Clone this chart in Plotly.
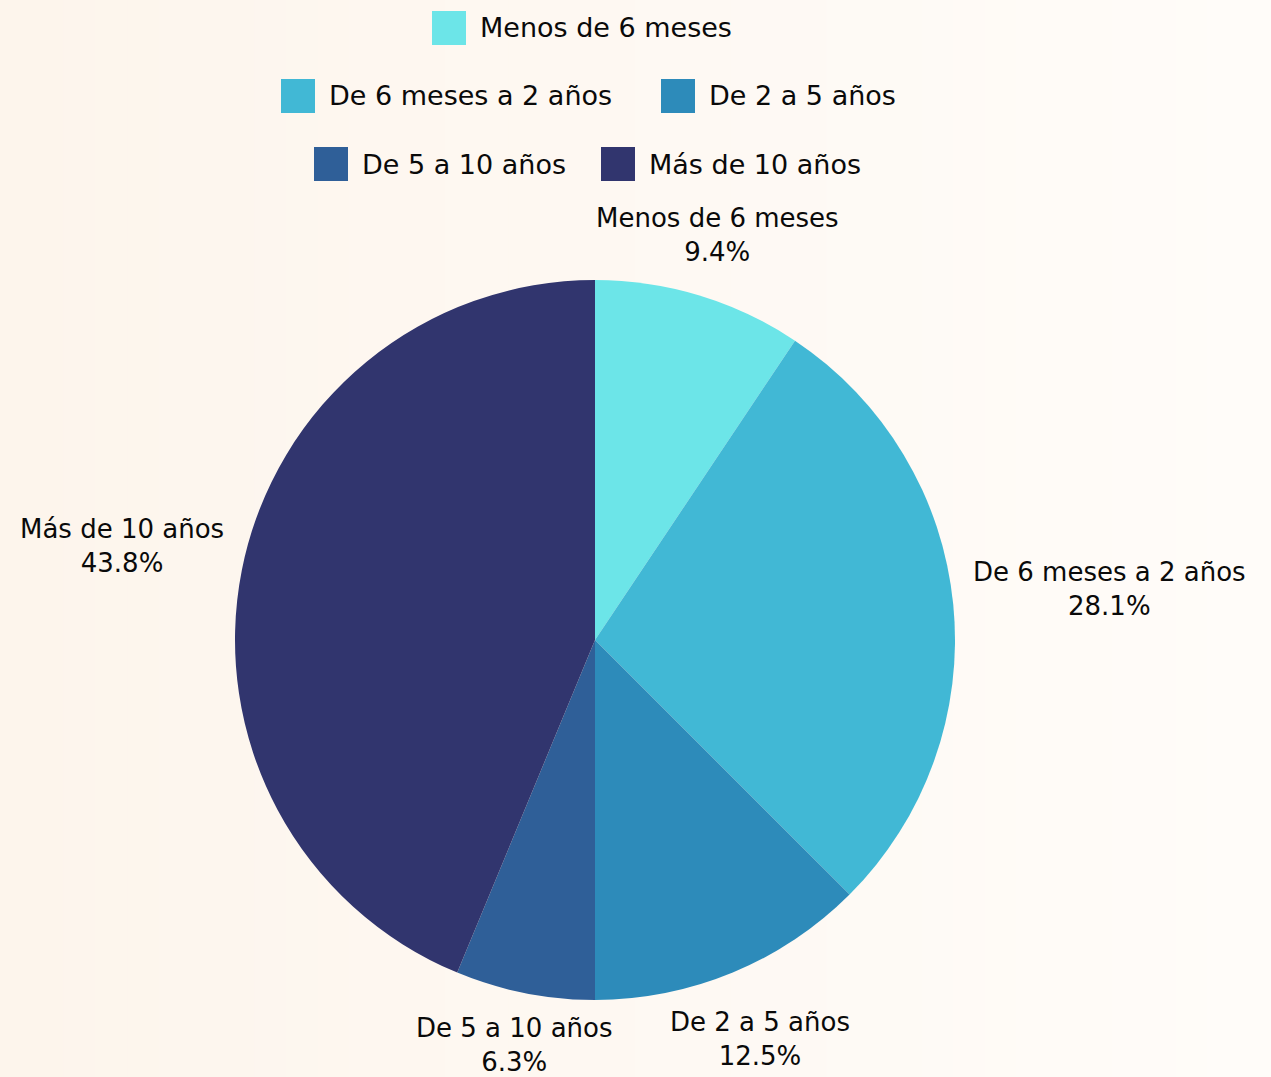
import math
from decimal import Decimal, ROUND_HALF_UP
import plotly.graph_objects as go

# ---- data ----
categories = ["Menos de 6 meses", "De 6 meses a 2 años", "De 2 a 5 años",
              "De 5 a 10 años", "Más de 10 años"]
counts = [3, 9, 4, 2, 14]
colors = ["#6ce5e8", "#41b8d5", "#2d8bba", "#2f5f98", "#31356e"]

W, H = 1271, 1077
FONT = "DejaVu Sans"
LABEL_SIZE = 26
LEGEND_SIZE = 27
TEXT_COLOR = "#0a0a0a"

fig = go.Figure()

# pie geometry (pixels)
cx, cy, r = 595, 640, 360
fig.add_trace(go.Pie(
    labels=categories,
    values=counts,
    sort=False,
    direction="clockwise",
    rotation=0,
    marker=dict(colors=colors, line=dict(width=0)),
    textinfo="none",
    showlegend=False,
    domain=dict(x=[(cx - r) / W, (cx + r) / W],
                y=[(H - cy - r) / H, (H - cy + r) / H]),
    hoverinfo="label+percent",
))

shapes = []
annotations = []


def box_dist(px, py, a, b):
    dx = max(abs(px) - a, 0.0)
    dy = max(abs(py) - b, 0.0)
    return math.hypot(dx, dy)


# ---- outside labels placed radially at each slice's mid-angle ----
total = sum(counts)
cum = 0.0
gap = 12
for lab, v in zip(categories, counts):
    mid = (cum + v / 2) / total * 2 * math.pi  # clockwise from top
    cum += v
    s, c = math.sin(mid), math.cos(mid)
    a = len(lab) * 0.58 * LABEL_SIZE / 2
    b = 33
    lo, hi = r, r + 600
    for _ in range(60):
        m = (lo + hi) / 2
        if box_dist(m * s, -m * c, a, b) < r + gap:
            lo = m
        else:
            hi = m
    d = (lo + hi) / 2
    px, py = cx + d * s, cy - d * c
    pct = Decimal(str(v / total * 100)).quantize(Decimal("0.1"),
                                                 rounding=ROUND_HALF_UP)
    annotations.append(dict(
        xref="paper", yref="paper", x=px / W, y=1 - py / H,
        xanchor="center", yanchor="middle", align="center",
        text=f"{lab}<br>{pct}%", showarrow=False,
        font=dict(family=FONT, size=LABEL_SIZE, color=TEXT_COLOR)))

# ---- background gradient strips (left peach -> right near-white) ----
n = 40
c0 = (253, 245, 236)
c1 = (255, 252, 249)
for i in range(n):
    t = i / (n - 1)
    col = tuple(round(c0[k] + (c1[k] - c0[k]) * t) for k in range(3))
    shapes.append(dict(type="rect", xref="paper", yref="paper",
                       x0=i / n, x1=(i + 1) / n + 0.001, y0=0, y1=1,
                       fillcolor="rgb(%d,%d,%d)" % col, line=dict(width=0),
                       layer="below"))

# ---- legend built from the category / colour lists ----
legend_rows = [[0], [1, 2], [3, 4]]
row_y = [28, 96, 164]
swatch_left = {0: 432, 1: 281, 2: 661, 3: 314, 4: 601}
sw = 34
for ri, row in enumerate(legend_rows):
    yc = row_y[ri]
    for idx in row:
        x0 = swatch_left[idx]
        shapes.append(dict(type="rect", xref="paper", yref="paper",
                           x0=x0 / W, x1=(x0 + sw) / W,
                           y0=1 - (yc + sw / 2) / H, y1=1 - (yc - sw / 2) / H,
                           fillcolor=colors[idx], line=dict(width=0)))
        annotations.append(dict(xref="paper", yref="paper",
                                x=(x0 + sw + 12) / W, y=1 - yc / H,
                                xanchor="left", yanchor="middle",
                                text=categories[idx], showarrow=False,
                                font=dict(family=FONT, size=LEGEND_SIZE,
                                          color=TEXT_COLOR)))

fig.update_layout(
    width=W, height=H,
    margin=dict(l=0, r=0, t=0, b=0),
    paper_bgcolor="#fef8f2",
    plot_bgcolor="#fef8f2",
    shapes=shapes,
    annotations=annotations,
    showlegend=False,
)

fig.write_html("out.html",
               config={"displayModeBar": False},
               post_script="document.body.style.margin='0';"
                           "document.body.style.background='#fef8f2';")
